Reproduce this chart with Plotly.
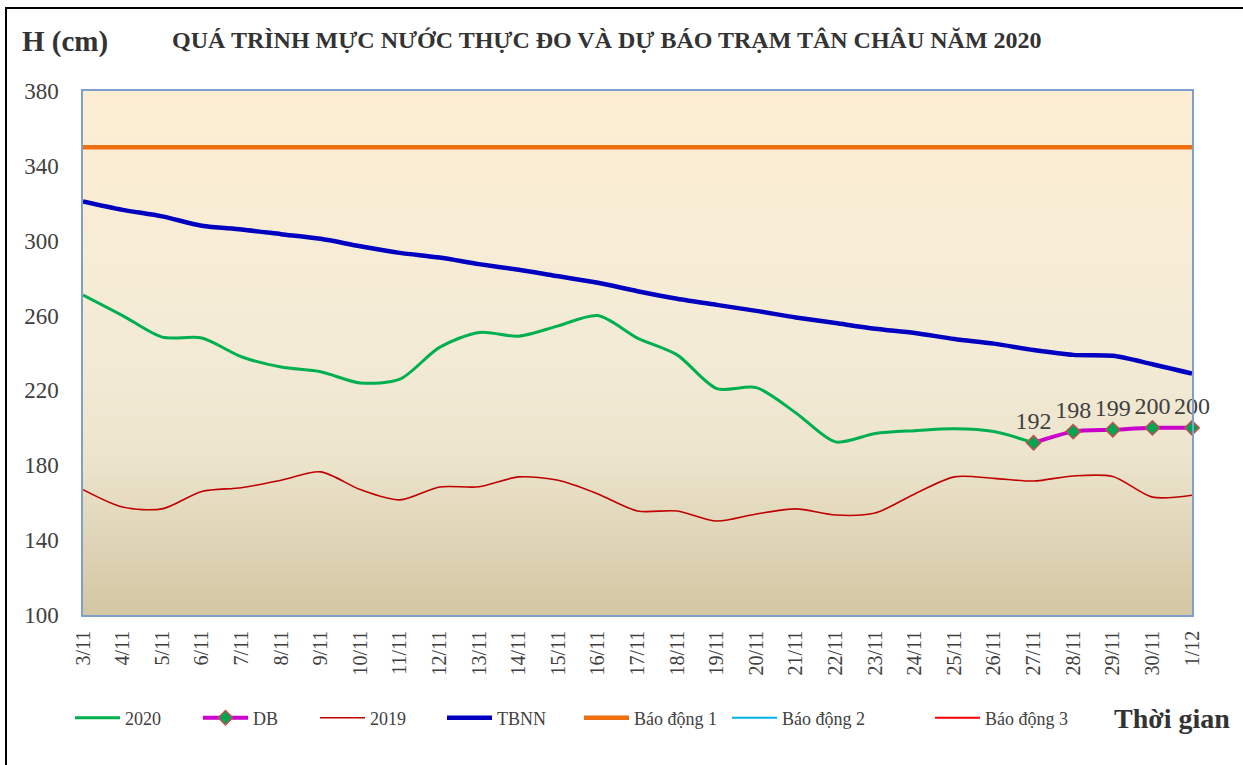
import plotly.graph_objects as go

categories = ["3/11","4/11","5/11","6/11","7/11","8/11","9/11","10/11","11/11","12/11",
              "13/11","14/11","15/11","16/11","17/11","18/11","19/11","20/11","21/11","22/11",
              "23/11","24/11","25/11","26/11","27/11","28/11","29/11","30/11","1/12"]

h2020 = [271, 260, 248.5, 248, 238, 232.5, 230, 224, 226, 243,
         251, 249, 254.5, 260, 248, 239, 221, 221.5, 208, 192.5,
         197, 198.5, 199.5, 198, 192]
db_cats = ["27/11", "28/11", "29/11", "30/11", "1/12"]
db_vals = [192, 198, 199, 200, 200]
h2019 = [167, 157.7, 156.7, 166, 168, 172, 176.5, 167, 161.5, 168.4,
         168.5, 173.8, 172, 164.7, 155.6, 155.6, 150.2, 154, 156.7, 153.4,
         154.5, 164.7, 173.8, 173, 171.6, 174.3, 174, 163, 164]
tbnn = [321, 316.5, 313, 308, 306, 303.5, 301, 297, 293.5, 291,
        287.5, 284.5, 281, 277.5, 273, 269, 265.7, 262.5, 259, 256,
        253, 250.7, 247.5, 245, 241.6, 239, 238.5, 234, 229]
bd1 = 350
bd2 = 400
bd3 = 450

serif = "Liberation Serif"
fig = go.Figure()

fig.add_trace(go.Scatter(x=categories[:len(h2020)], y=h2020, name="2020", mode="lines", legend="legend",
                         line=dict(color="#00B050", width=3, shape="spline", smoothing=0.8)))
fig.add_trace(go.Scatter(x=db_cats, y=db_vals, name="DB", mode="lines+markers+text", legend="legend2",
                         text=[str(v) for v in db_vals], textposition="top center", cliponaxis=False,
                         textfont=dict(family=serif, size=24, color="#404040"),
                         line=dict(color="#CC00CC", width=4, shape="spline", smoothing=0.8),
                         marker=dict(symbol="diamond", size=11, color="#00A651",
                                     line=dict(color="#C0504D", width=1.5))))
fig.add_trace(go.Scatter(x=categories, y=h2019, name="2019", mode="lines", legend="legend3",
                         line=dict(color="#C00000", width=1.6, shape="spline", smoothing=0.8)))
fig.add_trace(go.Scatter(x=categories, y=tbnn, name="TBNN", mode="lines", legend="legend4",
                         line=dict(color="#0000C0", width=4.5, shape="spline", smoothing=0.8)))
fig.add_trace(go.Scatter(x=categories, y=[bd1]*len(categories), name="Báo động 1", mode="lines",
                         legend="legend5", line=dict(color="#EE7011", width=4.5)))
fig.add_trace(go.Scatter(x=categories, y=[bd2]*len(categories), name="Báo động 2", mode="lines",
                         legend="legend6", line=dict(color="#00B0F0", width=2)))
fig.add_trace(go.Scatter(x=categories, y=[bd3]*len(categories), name="Báo động 3", mode="lines",
                         legend="legend7", line=dict(color="#FF0000", width=2)))

# gradient background
stops = [(0.0, (253, 238, 211)), (0.5, (243, 235, 214)), (0.7, (236, 228, 204)), (1.0, (211, 198, 163))]
def col(f):
    for (a, ca), (b, cb) in zip(stops[:-1], stops[1:]):
        if a <= f <= b:
            t = (f - a) / (b - a)
            return "rgb(%d,%d,%d)" % tuple(round(ca[i] + (cb[i] - ca[i]) * t) for i in range(3))
    return "rgb(211,198,163)"
n = 80
shapes = []
for i in range(n):
    f = (i + 0.5) / n
    shapes.append(dict(type="rect", xref="x domain", yref="y domain", x0=0, x1=1,
                       y0=1 - (i + 1) / n - 0.001, y1=1 - i / n, fillcolor=col(f),
                       line=dict(width=0), layer="below"))
PW, PH, L, B = 1109, 524, 83, 615
def px(x):
    return (x - L) / PW
def py(y):
    return (B - y) / PH
# outer frame
shapes.append(dict(type="rect", xref="paper", yref="paper",
                   x0=px(6), x1=px(1260), y0=py(780), y1=py(8),
                   line=dict(color="black", width=2), fillcolor="rgba(0,0,0,0)"))

legend_text_x = [125, 253, 370, 497, 634, 782, 985]
leg = {}
for k, tx in enumerate(legend_text_x):
    key = "legend" if k == 0 else "legend%d" % (k + 1)
    leg[key] = dict(orientation="h", x=px(tx - 55), y=py(718), yanchor="middle", xanchor="left",
                    font=dict(family=serif, size=18, color="#404040"),
                    bgcolor="rgba(0,0,0,0)", itemwidth=45)

fig.update_layout(
    width=1243, height=765,
    margin=dict(l=83, r=51, t=91, b=150),
    paper_bgcolor="white", plot_bgcolor="rgba(0,0,0,0)",
    shapes=shapes,
    showlegend=True,
    annotations=[
        dict(text="<b>QUÁ TRÌNH MỰC NƯỚC THỰC ĐO VÀ DỰ BÁO TRẠM TÂN CHÂU NĂM 2020</b>",
             xref="paper", yref="paper", x=px(607), y=py(40), yanchor="middle",
             showarrow=False, font=dict(family=serif, size=24, color="#333333")),
        dict(text="<b>H (cm)</b>", xref="paper", yref="paper", x=px(20),
             y=py(42), xanchor="left", yanchor="middle", showarrow=False,
             font=dict(family=serif, size=29, color="#333333")),
        dict(text="<b>Thời gian</b>", xref="paper", yref="paper", x=px(1232),
             y=py(718), xanchor="right", yanchor="middle", showarrow=False,
             font=dict(family=serif, size=28, color="#333333")),
    ],
    **leg,
)
fig.update_xaxes(type="category", categoryorder="array", categoryarray=categories,
                 range=[0, len(categories) - 1], tickangle=-90,
                 tickfont=dict(family=serif, size=20, color="#404040"),
                 showgrid=False, showline=True, linecolor="#7F9FCF", linewidth=1.5, mirror=True,
                 ticks="", ticklabelstandoff=6)
fig.update_yaxes(range=[100, 380], tickvals=[100, 140, 180, 220, 260, 300, 340, 380],
                 tickfont=dict(family=serif, size=23, color="#404040"),
                 showgrid=False, showline=True, linecolor="#7F9FCF", linewidth=1.5, mirror=True,
                 ticks="", ticklabelstandoff=18, zeroline=False)

fig.write_html("out.html", config={"displayModeBar": False},
               post_script="document.body.style.margin='0px';")
